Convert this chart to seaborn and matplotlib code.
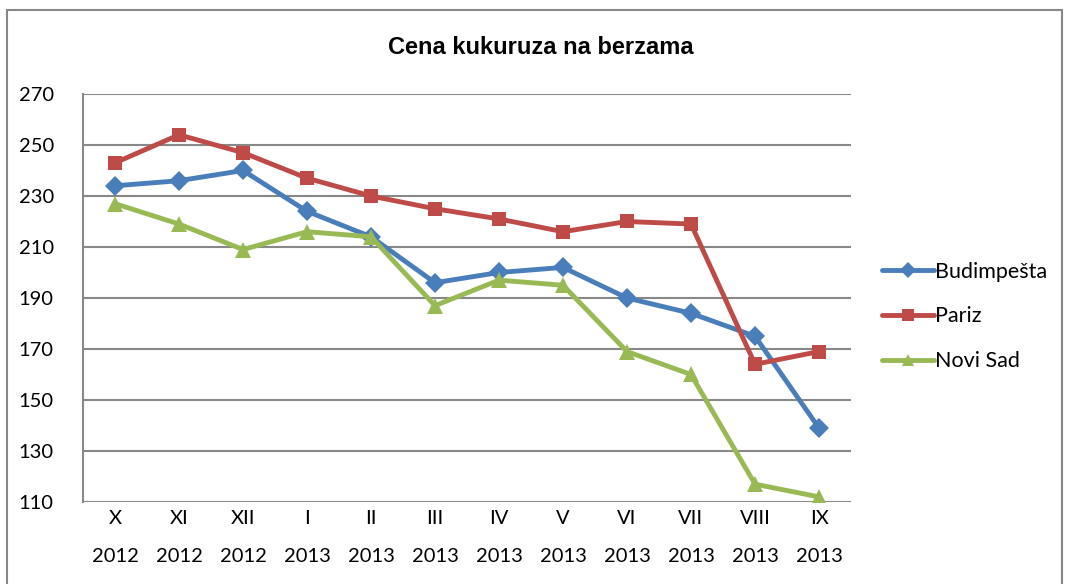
import pandas as pd
import seaborn as sns
import matplotlib.pyplot as plt
from matplotlib.patches import Rectangle

meseci = ['X\n2012', 'XI\n2012', 'XII\n2012', 'I\n2013', 'II\n2013', 'III\n2013',
          'IV\n2013', 'V\n2013', 'VI\n2013', 'VII\n2013', 'VIII\n2013', 'IX\n2013']
budimpesta = [234, 236, 240, 224, 214, 196, 200, 202, 190, 184, 175, 139]
pariz = [243, 254, 247, 237, 230, 225, 221, 216, 220, 219, 164, 169]
novi_sad = [227, 219, 209, 216, 214, 187, 197, 195, 169, 160, 117, 112]

serije = ['Budimpešta', 'Pariz', 'Novi Sad']
boje = ['#4a7ebb', '#be4b48', '#98b954']
markeri = ['D', 's', '^']

# long format za seaborn
data = pd.DataFrame({
    'Mesec': meseci * 3,
    'x': list(range(len(meseci))) * 3,
    'Cena': budimpesta + pariz + novi_sad,
    'Berza': [s for s in serije for _ in meseci],
})

sns.set_style('white')
plt.rcParams['font.family'] = ['Lato', 'DejaVu Sans']
plt.rcParams['text.color'] = 'black'
plt.rcParams['xtick.color'] = 'black'
plt.rcParams['ytick.color'] = 'black'

fig = plt.figure(figsize=(10.65, 5.84), dpi=100)
ax = fig.add_axes([83 / 1065, 1 - 502 / 584, (851 - 83) / 1065, (502 - 94) / 584])

sns.lineplot(data=data, x='x', y='Cena', hue='Berza', style='Berza',
             hue_order=serije, style_order=serije,
             palette=boje, markers=markeri, dashes=False,
             linewidth=3.5, markersize=10, markeredgewidth=0, ax=ax)
for ln in ax.lines:
    if ln.get_marker() == '^':
        ln.set_markersize(12)
    elif ln.get_marker() == 's':
        ln.set_markersize(10.5)

ax.set_xlim(-0.5, len(meseci) - 0.5)
ax.set_ylim(110, 270)
ax.set_yticks(range(110, 271, 20))
ax.set_xticks(range(len(meseci)))
ax.set_xticklabels(meseci, fontsize=14.5, linespacing=2.5)
ax.tick_params(axis='y', labelsize=14.5, pad=21, length=0)
ax.tick_params(axis='x', pad=6, length=0)
ax.set_xlabel('')
ax.set_ylabel('')
ax.yaxis.grid(True, color='#888888', linewidth=1.5)
ax.set_axisbelow(True)
for s in ['top', 'right', 'bottom']:
    ax.spines[s].set_visible(False)
ax.spines['left'].set_color('#888888')
ax.spines['left'].set_linewidth(1.5)

fig.text(0.508, 1 - 47 / 584, 'Cena kukuruza na berzama', ha='center', va='center',
         fontsize=17, fontweight='bold', family=['Liberation Sans', 'DejaVu Sans'])

leg = ax.legend(loc='center left', bbox_to_anchor=(1.015, 0.455), frameon=False,
                fontsize=15.5, handlelength=2.4, handletextpad=0.05, labelspacing=1.15)
for h in leg.legend_handles:
    h.set_linewidth(3.5)
    h.set_markersize(8)

# okvir oko cele slike
fig.patches.append(Rectangle((7 / 1065, -0.02), 1 - 10 / 1065, 1 - 10 / 584 + 0.02,
                             transform=fig.transFigure, fill=False,
                             edgecolor='#888888', linewidth=1.5))

fig.savefig('out.png', dpi=100)
